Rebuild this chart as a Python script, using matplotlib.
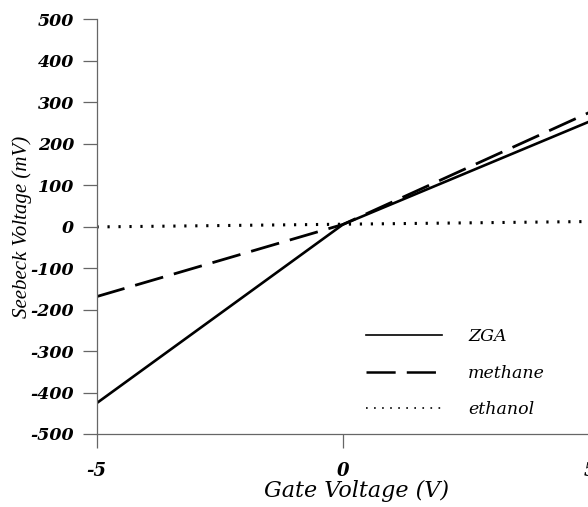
import matplotlib
matplotlib.use("Agg")
import matplotlib.pyplot as plt

gate = [-5, 0, 5]
zga = [-426, 5, 253]
methane = [-169, 5, 275]
ethanol_x = [-5, 5]
ethanol = [-1, 12]

xticks = [-5, 0, 5]
yticks = [-500, -400, -300, -200, -100, 0, 100, 200, 300, 400, 500]

plt.rcParams['font.family'] = ['Liberation Serif', 'DejaVu Serif']
plt.rcParams['lines.scale_dashes'] = False
wide = ['DejaVu Serif']

fig = plt.figure(figsize=(5.88, 5.07), dpi=100)
ax = fig.add_axes([96.5 / 588, 1 - 434 / 507, (589.5 - 96.5) / 588, (434 - 19) / 507])

ax.plot(gate, zga, color='black', lw=1.9, label='ZGA', solid_capstyle='butt')
l2, = ax.plot(gate, methane, color='black', lw=2.0, label='methane', dash_capstyle='butt')
l2.set_dashes((21, 8))
l3, = ax.plot(ethanol_x, ethanol, color='black', lw=2.2, label='ethanol')
l3.set_dashes((1.6, 6.3))

ax.set_xlim(-5, 5)
ax.set_ylim(-500, 500)
ax.set_xticks(xticks)
ax.set_yticks(yticks)
ax.set_xticklabels([str(t) for t in xticks], fontsize=13, fontweight='bold',
                   fontstyle='italic', family=wide)
ax.set_yticklabels([str(t) for t in yticks], fontsize=12.5, fontweight='bold',
                   fontstyle='italic', family=wide)

for s in ['top', 'right']:
    ax.spines[s].set_visible(False)
for s in ['left', 'bottom']:
    ax.spines[s].set_color('#666666')
    ax.spines[s].set_linewidth(0.9)
ax.tick_params(axis='both', direction='out', length=10, width=0.9, color='#666666')
ax.tick_params(axis='y', pad=6)
ax.tick_params(axis='x', pad=10)

ax.set_xlabel('Gate Voltage (V)', fontsize=16, fontstyle='italic', family=wide)
ax.xaxis.set_label_coords(0.528, -0.111)
ax.set_ylabel('Seebeck Voltage (mV)', fontsize=15, fontstyle='italic', labelpad=-1)

h1, = ax.plot([], [], color='black', lw=1.2)
h2, = ax.plot([], [], color='black', lw=1.8)
h2.set_dashes((21, 8))
h3, = ax.plot([], [], color='black', lw=1.2)
h3.set_dashes((1.2, 4.6))
leg = ax.legend([h1, h2, h3], ['ZGA', 'methane', 'ethanol'], loc='lower left',
                bbox_to_anchor=(0.514, 0.0), frameon=False, handlelength=4.4,
                handletextpad=1.5, labelspacing=1.13,
                prop={'family': wide, 'style': 'italic', 'size': 12.5})

fig.savefig('out.png', dpi=100)
